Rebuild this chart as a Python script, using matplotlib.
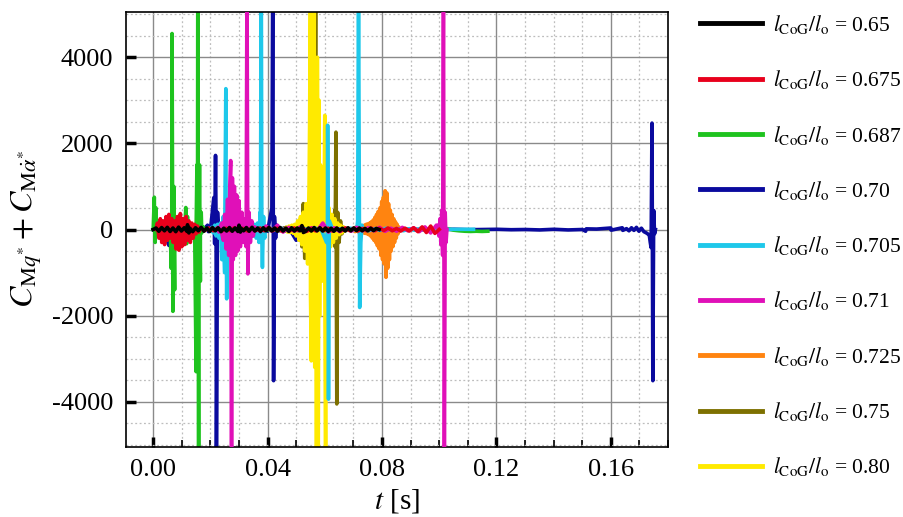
import numpy as np
import matplotlib
matplotlib.use("Agg")
import matplotlib.pyplot as plt
from matplotlib.ticker import MultipleLocator, FixedLocator

plt.rcParams['font.family'] = ['Liberation Serif', 'DejaVu Serif']
plt.rcParams['mathtext.fontset'] = 'stix'

# ---------------- data ----------------
ratios = ['0.65', '0.675', '0.687', '0.70', '0.705', '0.71', '0.725', '0.75', '0.80']
colors = ['#000000', '#e8001c', '#1ec31e', '#0a0a9e', '#1ec8ea', '#e010b8', '#ff8410', '#7d7000', '#ffea00']

# l/lo = 0.65 (black)
black_spans = [(0.0, 0.079)]
black_noise = [[0, 35, -40, 45, -30, 50, -45, 35, -50, 55, -35, 40, -45, 30, -50, 40, -30, 50, -40, 35,
                -45, 45, -30, 40, -50, 30, -35, 45, -40, 35, -45, 35, -30, 45, -40, 50, -35, 35, -45, 40,
                -30, 45, -35, 35, -40, 45, -35, 30, -45, 40, -35, 35, -30, 45, -40, 35, -35, 45, -30, 40,
                -35, 35, -45, 30, -40, 35, -35, 30, -35, 40, -30, 35, -25, 35, -30, 25, -30, 30, -25, 25, 0]]
black_ev_t = [0.0120, 0.0125, 0.0300, 0.0305, 0.0520, 0.0525]
black_ev_v = [110, -80, 100, -60, 90, -70]

# l/lo = 0.675 (red)
red_spans = [(0.001, 0.016), (0.0165, 0.1)]
red_noise = [[0, 150, -200, 250, -300, 200, -350, 300, -250, 350, -200, 250, -300, 200, -450, 300,
              -480, 370, -400, 250, -350, 300, -250, 200, -300, 150, -200, 120, -100, 80, -60],
             [30, -25, 35, -30, 25, -35, 30, -25, 40, -30, 25, -35, 30, -25, 35, -30, 45, -25, 30, -35,
              25, -30, 35, -25, 30, -40, 25, -30, 35, -25, 30, -35, 25, -30, 35, -25, 30, -35, 25, -30,
              35, -25, 30, -25, 35, -30, 25, -35, 30, -35, 40, -50, 60, -70, 80, -90, 0]]
red_ev_t = []
red_ev_v = []

# l/lo = 0.687 (green)
green_spans = [(0.0, 0.018), (0.0185, 0.117)]
green_noise = [[0, 120, -150, 100, -120, 150, -100, 130, -160, 110, -140, 120, -100, 150, -130, 100, -120, 140,
                -110, 90, -130, 120, -100, 150, -120, 100, -90, 130, -110, 80, -100, 120, -90, 70, -80, 60, 0],
               [20, -15, 20, -20, 15, -20, 20, -15, 20, -20, 15, -20, 20, -15, 20, -20, 15, -20, 20, -15,
                20, -20, 15, -20, 20, -15, 20, -20, 15, -20, 20, -15, 20, -20, 15, -20, 20, -15, 20, -20,
                15, -20, 20, -15, -30, -40, -45, -40, -45, -40]]
green_ev_t = [0.0004, 0.0007, 0.0010, 0.0063, 0.0066, 0.0069, 0.0072, 0.0075, 0.0078, 0.0114, 0.0117,
              0.0120, 0.0150, 0.0153, 0.0156, 0.0159, 0.0162, 0.0165, 0.0168]
green_ev_v = [750, -300, 500, -900, 4550, -1900, 1000, -1400, 300, 510, -330, 300, -3300, 1500, 6000,
              -6000, 1500, -1200, 400]

# l/lo = 0.70 (blue)
blue_spans = [(0.0, 0.05), (0.0505, 0.165), (0.1655, 0.1733)]
blue_noise = [[0, 30, -40, 25, -30, 40, -25, 30, -45, 25, -30, 40, -25, 30, -40, 25, -30, 45, -25, 30,
               -40, 25, -30, 40, -25, 0],
              [0, 0, 5, -5, 0, 5, -5, 0, 5, -5, 0, 5, -5, 0, 5, -5, 0, -10, 5, -10, 0, 10, -10, 5],
              [20, -30, 40, -20, 50, -40, 30, -50, -80, -120]]
blue_ev_t = [0.0055, 0.0059, 0.0063, 0.0190, 0.0193, 0.0212, 0.0215, 0.0218, 0.0221, 0.0225, 0.0229,
             0.0415, 0.0418, 0.0421, 0.0424, 0.0428, 0.0432, 0.0500, 0.0503, 0.1512, 0.1514,
             0.1600, 0.1602, 0.1640, 0.1642,
             0.1735, 0.1738, 0.1741, 0.1744, 0.1747, 0.1750, 0.1753, 0.1756]
blue_ev_v = [-370, 100, -250, 100, -50, 740, -330, 1720, -6000, 400, -150, 500, 6000, -3510, 300, -200,
             100, -250, 50, -40, 15, 35, -15, 40, -20,
             -150, -300, -420, 2470, -3510, 440, -100, 0]

# l/lo = 0.705 (cyan)
cyan_spans = [(0.0200, 0.0400), (0.0405, 0.112)]
cyan_noise = [[0, 50, -80, 100, -150, 120, -200, 150, -250, 200, -300, 250, -200, 150, -180, 120, -100, 80,
               -60, 50, -40, 60, -50, 40, -60, 50, -80, 60, -100, 80, -150, 120, -200, 150, -300, 200,
               -250, 150, -100, 60, 0],
              [20, -20, 30, -20, 20, -30, 20, -20, 30, -20, 20, -30, 20, -20, 30, -20, 20, -30, 20, -20,
               30, -20, 20, -30, 20, -20, 30, -20, 5, 5, 5, 5, 5, 5, 5, 5]]
cyan_ev_t = [0.0235, 0.0240, 0.0245, 0.0250, 0.0254, 0.0257, 0.0260, 0.0264, 0.0268, 0.0374, 0.0378,
             0.0382, 0.0386, 0.0390, 0.0606, 0.0610, 0.0613, 0.0616, 0.0715, 0.0718, 0.0722, 0.0726, 0.0730]
cyan_ev_v = [-200, -700, 300, -1000, 3270, -1610, 500, -500, 200, 400, 6000, -880, 300, -200, -300, 2420,
             -3940, 200, 200, 6000, -1810, -300, 100]

# l/lo = 0.71 (magenta)
magenta_spans = [(0.022, 0.024), (0.0355, 0.099)]
magenta_noise = [[0, 50, -60, 80, -100],
                 [60, -50, 80, -40, 100, -60, 50, -40, 60, -50, 40, -30, 150, -60, 40, -50, 30, -40, 50, -30,
                  40, -30, 50, -40, 30, -40, 50, -30, 40, -50, 60, -80, 100]]
magenta_ev_t = [0.0240, 0.0245, 0.0250, 0.0255, 0.0260, 0.0264, 0.0268, 0.0271, 0.0274, 0.0277, 0.0280,
                0.0284, 0.0288, 0.0292, 0.0296, 0.0300, 0.0305, 0.0310, 0.0315, 0.0320, 0.0325, 0.0328,
                0.0331, 0.0335, 0.0340, 0.0345, 0.0350,
                0.0995, 0.0999, 0.1003, 0.1006, 0.1009, 0.1012, 0.1015, 0.1018, 0.1021, 0.1024, 0.1027]
magenta_ev_v = [150, -250, 350, -450, 700, -600, 1000, 1600, -6000, 1200, -700, 1000, -600, 800, -500,
                670, -400, 400, -300, 250, -400, 6000, -1030, 400, -300, 200, -150,
                100, -150, 250, -350, 450, -600, 6000, -6000, 400, -300, 0]

# l/lo = 0.725 (orange)
orange_spans = [(0.070, 0.0865)]
orange_noise = [[0, 40, -50, 60, -40, 50, -60, 40, -70, 80, -60, 90, -80, 100, -90, 120, -100, 130, -120, 150,
                 -150, 180, -200, 220, -250, 280, -300, 350, -380, 420, -450, 500, -600, 650, -700, 750, -800,
                 900, -1110, 850,
                 -900, 600, -700, 450, -500, 350, -400, 250, -300, 180, -200, 120, -100, 60, -40, 0]]
orange_ev_t = []
orange_ev_v = []

# l/lo = 0.75 (olive)
olive_spans = [(0.045, 0.067)]
olive_noise = [[0, 30, -40, 50, -30, 60, -50, 80, -70, 100, -120, 150, -200, 250, -400, 600, -670, 500, -450, 350,
                -300, 250, -200, 150, -150, 100, -120, 100, -80, 60, -60, 50, -60, 80, -100, 150, -200, 440,
                -330, 400, -300, 200, -100, 50, 0]]
olive_ev_t = [0.0564, 0.0568, 0.0572, 0.0636, 0.0639, 0.0642, 0.0645]
olive_ev_v = [-800, 6000, -2000, -400, 2260, -4050, 300]

# l/lo = 0.80 (yellow)
yellow_spans = [(0.046, 0.068)]
yellow_noise = [[0, 50, -60, 80, -70, 100, -90, 120, -150, 200, -250, 300, -350, 400, -500, 600, -800, 1000,
                 -1500, 2000, -2500, 3000, -3000, 2500, -2000, 1500, -1200, 1000, -800, 700, -600, 500, -400,
                 350, -300, 250, -200, 150, -120, 100, -80, 60, -40, 30, 0]]
yellow_ev_t = [0.0547, 0.0550, 0.0553, 0.0556, 0.0559, 0.0562, 0.0565, 0.0568, 0.0571, 0.0574, 0.0577,
               0.0580, 0.0583, 0.0597, 0.0600, 0.0603, 0.0606]
yellow_ev_v = [2500, 6000, -3050, 6000, -2800, 5500, -3200, 2400, -6000, 4000, -6000, 3000, -2000, -300,
               2650, -6000, 300]

series = [
    (black_spans, black_noise, black_ev_t, black_ev_v, 2.9),
    (red_spans, red_noise, red_ev_t, red_ev_v, 2.8),
    (green_spans, green_noise, green_ev_t, green_ev_v, 2.1),
    (blue_spans, blue_noise, blue_ev_t, blue_ev_v, 2.0),
    (cyan_spans, cyan_noise, cyan_ev_t, cyan_ev_v, 2.5),
    (magenta_spans, magenta_noise, magenta_ev_t, magenta_ev_v, 2.6),
    (orange_spans, orange_noise, orange_ev_t, orange_ev_v, 2.4),
    (olive_spans, olive_noise, olive_ev_t, olive_ev_v, 2.2),
    (yellow_spans, yellow_noise, yellow_ev_t, yellow_ev_v, 2.3),
]


def assemble(spans, noises, ev_t, ev_v):
    ts = [np.asarray(ev_t, float)]
    vs = [np.asarray(ev_v, float)]
    for (a, b), vals in zip(spans, noises):
        ts.append(np.linspace(a, b, len(vals)))
        vs.append(np.asarray(vals, float))
    t = np.concatenate(ts)
    v = np.concatenate(vs)
    order = np.argsort(t, kind='stable')
    return t[order], v[order]


fig = plt.figure(figsize=(9.04, 5.17), dpi=100)
ax = fig.add_axes([126 / 904, 1 - 447 / 517, (668 - 126) / 904, (447 - 12) / 517])

for (spans, noises, et, ev, z), r, c in zip(series, ratios, colors):
    t, v = assemble(spans, noises, et, ev)
    ax.plot(t, v, color=c, lw=2.6, zorder=z,
            label=r'$l_{\mathrm{CoG}}/l_{\mathrm{o}}$ = ' + r)

ax.set_xlim(-0.0095, 0.18)
ax.set_ylim(-5050, 5050)
ax.xaxis.set_major_locator(FixedLocator([0.0, 0.04, 0.08, 0.12, 0.16]))
ax.xaxis.set_minor_locator(MultipleLocator(0.01))
ax.yaxis.set_major_locator(FixedLocator([-4000, -2000, 0, 2000, 4000]))
ax.yaxis.set_minor_locator(MultipleLocator(500))
ax.set_xticklabels(['0.00', '0.04', '0.08', '0.12', '0.16'])
ax.set_yticklabels(['-4000', '-2000', '0', '2000', '4000'])

ax.set_axisbelow(True)
ax.grid(which='major', color='#8a8a8a', lw=1.0, ls='-')
ax.grid(which='minor', color='#bdbdbd', lw=0.9, ls=(0, (1.5, 2)))

ax.tick_params(which='major', direction='in', length=7, width=2.5, labelsize=19, pad=9, colors='black')
ax.tick_params(axis='x', which='minor', direction='in', length=5, width=1.2)
ax.tick_params(axis='y', which='minor', length=0)
for s in ax.spines.values():
    s.set_color('black')
    s.set_linewidth(1.2)

ax.set_ylabel(r'$C_{\mathrm{M}q^{*}}+C_{\mathrm{M}\dot{\alpha}^{*}}$', fontsize=23, labelpad=6)
ax.set_xlabel(r'$t$ [s]', fontsize=21, labelpad=4)

leg = ax.legend(loc='upper left', bbox_to_anchor=(700 / 904, 1 - 13 / 517), bbox_transform=fig.transFigure,
                frameon=False, fontsize=15.5, handlelength=2.9, handletextpad=0.5, labelspacing=1.5,
                borderaxespad=0, borderpad=0)
for h in leg.get_lines():
    h.set_linewidth(3.5)

fig.savefig('out.png', dpi=100)
